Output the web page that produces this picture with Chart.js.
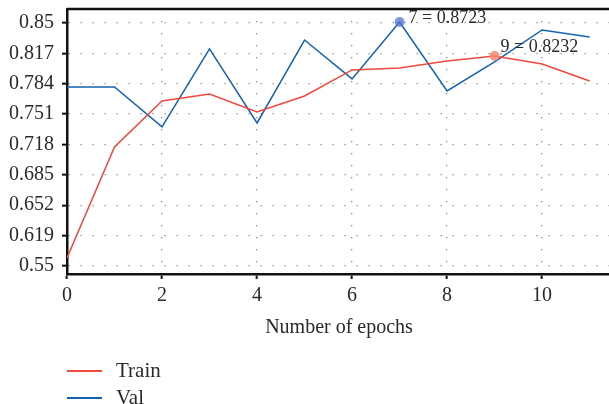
<!DOCTYPE html>
<html>
<head>
<meta charset="utf-8">
<script src="https://cdn.jsdelivr.net/npm/chart.js@4"></script>
<style>
  html, body { margin: 0; padding: 0; background: #fff; overflow: hidden; }
  #wrap { position: relative; width: 612px; height: 404px; }
  #legend { position: absolute; left: 67px; top: 357px; font-family: "Liberation Serif", serif; font-size: 21px; color: #2a2a2a; }
  .item { height: 27px; display: flex; align-items: center; }
  .swatch { width: 35px; height: 2px; margin-right: 14px; }
</style>
</head>
<body>
<div id="wrap">
  <canvas id="accChart" width="612" height="404"></canvas>
  <div id="legend"></div>
</div>
<script>
const epochs = [0, 1, 2, 3, 4, 5, 6, 7, 8, 9, 10, 11];
const trainAcc = [0.5948, 0.7154, 0.7653, 0.7729, 0.7534, 0.7707, 0.7990, 0.8011, 0.8087, 0.8142, 0.8055, 0.7870];
const valAcc = [0.7805, 0.7805, 0.7371, 0.8218, 0.7414, 0.8315, 0.7892, 0.8511, 0.7762, 0.8077, 0.8424, 0.8348];

// the printed y labels are not evenly spaced in value, but they sit evenly on the axis
const yTickValues = [0.586, 0.619, 0.652, 0.685, 0.718, 0.751, 0.784, 0.817, 0.85];
const yTickLabels = ['0.55', '0.619', '0.652', '0.685', '0.718', '0.751', '0.784', '0.817', '0.85'];

const valMark = { index: 7, text: '7 = 0.8723' };
const trainMark = { index: 9, text: '9 = 0.8232' };

const red = 'rgb(240, 72, 60)';
const blue = 'rgb(18, 98, 178)';
const textColor = '#2a2a2a';
const font = { family: '"Liberation Serif", serif', size: 20 };

function markerRadius(idx) {
    return epochs.map((e, i) => (i === idx ? 5 : 0));
}

const frame = {
    id: 'frame',
    afterDraw(chart) {
        const { ctx, chartArea } = chart;
        ctx.save();
        ctx.strokeStyle = '#111';
        ctx.lineWidth = 2.5;
        ctx.beginPath();
        ctx.moveTo(chartArea.left, chartArea.top);
        ctx.lineTo(chartArea.right, chartArea.top);
        ctx.lineTo(chartArea.right, chartArea.bottom);
        ctx.stroke();

        ctx.fillStyle = textColor;
        ctx.font = '18px "Liberation Serif", serif';
        ctx.textBaseline = 'alphabetic';
        const pv = chart.getDatasetMeta(1).data[valMark.index];
        ctx.fillText(valMark.text, pv.x + 9, pv.y + 1);
        const pt = chart.getDatasetMeta(0).data[trainMark.index];
        ctx.fillText(trainMark.text, pt.x + 6, pt.y - 4);
        ctx.restore();
    }
};

function noPadding(scale) {
    scale.paddingTop = 0;
    scale.paddingBottom = 0;
    scale.paddingLeft = 0;
    scale.paddingRight = 0;
}

const ctx = document.getElementById('accChart').getContext('2d');
const accChart = new Chart(ctx, {
    type: 'line',
    data: {
        labels: epochs,
        datasets: [{
            label: 'Train',
            data: epochs.map((e, i) => ({ x: e, y: trainAcc[i] })),
            borderColor: red,
            borderWidth: 1.5,
            pointRadius: markerRadius(trainMark.index),
            pointBackgroundColor: 'rgba(245, 135, 115, 0.85)',
            pointBorderWidth: 0,
            tension: 0
        }, {
            label: 'Val',
            data: epochs.map((e, i) => ({ x: e, y: valAcc[i] })),
            borderColor: blue,
            borderWidth: 1.5,
            pointRadius: markerRadius(valMark.index),
            pointBackgroundColor: 'rgba(80, 115, 205, 0.75)',
            pointBorderWidth: 0,
            tension: 0
        }]
    },
    options: {
        responsive: false,
        animation: false,
        layout: { padding: { top: 9, right: 1, left: 0, bottom: 0 } },
        plugins: {
            legend: { display: false },
            tooltip: { enabled: false }
        },
        scales: {
            x: {
                type: 'linear',
                min: 0,
                max: 11.45,
                ticks: {
                    stepSize: 2,
                    includeBounds: false,
                    padding: 5,
                    color: textColor,
                    font: font
                },
                grid: {
                    color: '#8a8a8a',
                    lineWidth: 1.3,
                    tickLength: 5,
                    tickColor: '#111',
                    tickWidth: 2
                },
                border: { color: '#111', width: 2.5, dash: [1.3, 10.7] },
                title: {
                    display: true,
                    text: 'Number of epochs',
                    color: textColor,
                    font: font,
                    padding: { top: 0, bottom: 64 }
                },
                afterFit: function(scale) {
                    scale.height = 130;
                    noPadding(scale);
                }
            },
            y: {
                min: 0.5773,
                max: 0.8652,
                afterBuildTicks: function(scale) {
                    scale.ticks = yTickValues.map(v => ({ value: v }));
                },
                ticks: {
                    padding: 8,
                    color: textColor,
                    font: font,
                    callback: function(value, index) { return yTickLabels[index]; }
                },
                grid: {
                    color: '#8a8a8a',
                    lineWidth: 1.3,
                    tickLength: 5,
                    tickColor: '#111',
                    tickWidth: 2
                },
                border: { color: '#111', width: 2.5, dash: [1.3, 10.7] },
                afterFit: function(scale) {
                    scale.width = 67;
                    noPadding(scale);
                }
            }
        }
    },
    plugins: [frame]
});

let legendBox = document.getElementById('legend');
accChart.data.datasets.forEach(function(ds) {
    let row = document.createElement('div');
    row.className = 'item';
    let sw = document.createElement('span');
    sw.className = 'swatch';
    sw.style.background = ds.borderColor;
    let label = document.createElement('span');
    label.textContent = ds.label;
    row.appendChild(sw);
    row.appendChild(label);
    legendBox.appendChild(row);
});
</script>
</body>
</html>
